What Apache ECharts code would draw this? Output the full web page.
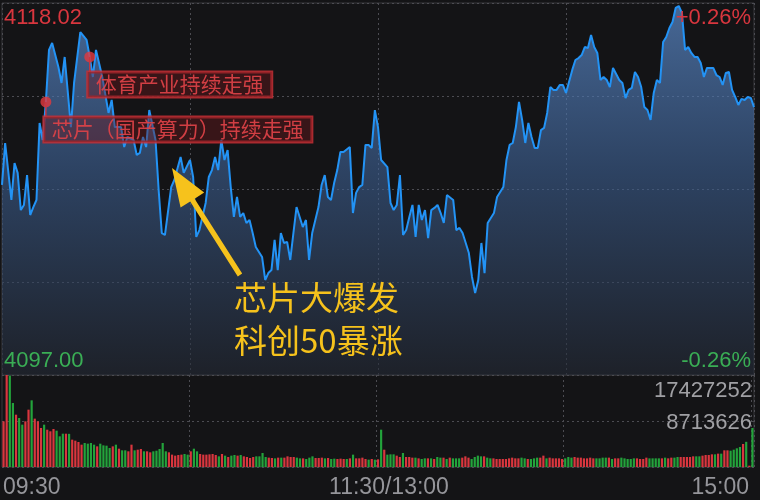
<!DOCTYPE html>
<html>
<head>
<meta charset="utf-8">
<script src="https://cdn.jsdelivr.net/npm/echarts@6/dist/echarts.min.js"></script>
<style>
  html, body { margin: 0; padding: 0; background: #141416; }
  #main { width: 760px; height: 500px; }
</style>
</head>
<body>
<div id="main"></div>
<script>
var prevClose = 4107.51;
var priceMax = 4118.02;
var priceMin = 4097.00;
var volMax = 17427252;
var timeLabels = ['09:30', '11:30/13:00', '15:00'];

// minute of session (0..240) and index price
var priceMinutes = [
  0, 1, 3, 4, 5, 6, 7, 8, 9, 10, 11, 12, 13, 14, 15, 16, 18, 19, 20, 22, 23, 25, 27, 28, 29, 30,
  32, 34, 35, 36, 38, 39, 40, 42, 43, 44, 45, 46, 47, 49, 50, 51, 52, 54, 55, 57, 58, 60,
  61, 62, 63, 65, 66, 67, 68, 69, 70, 71, 72, 73, 74, 75, 76, 77, 78, 79, 80, 81, 83, 84, 85, 86,
  87, 88, 89, 90, 91, 92, 93, 94, 95, 96, 97, 98, 99, 101, 102, 103, 104, 105, 106, 107, 108, 109,
  111, 112, 113, 114, 115, 116, 117, 118, 119, 120,
  121, 123, 124, 125, 126, 127, 128, 129, 130, 131, 132, 133, 134, 135, 136, 137, 138, 139, 140,
  141, 142, 144, 145, 146, 147, 149, 150, 151, 152, 153, 154, 155, 157, 158, 160, 161, 162, 163,
  164, 165, 166, 167, 168, 169, 170, 171, 172, 173, 174, 175, 176, 177, 178, 179, 180, 182, 183,
  184, 185, 186, 187, 188, 189, 190, 191, 192, 193, 194, 195, 197, 198, 199, 200, 201, 202, 203,
  204, 205, 206, 207, 208, 209, 210, 211, 212, 213, 214, 215, 216, 217, 218, 219, 220, 221, 222,
  223, 224, 225, 227, 228, 229, 230, 231, 232, 233, 234, 235, 236, 237, 238, 239, 240
];
var prices = [
  4107.74, 4110.11, 4106.89, 4108.98, 4108.42, 4106.32, 4106.61, 4108.30, 4106.04, 4106.49, 4106.89, 4111.24, 4110.28, 4112.43, 4115.37, 4115.76, 4114.40, 4113.50, 4114.97, 4111.01, 4113.50, 4116.38, 4115.93, 4114.97, 4113.84, 4115.37,
  4113.84, 4111.81, 4112.54, 4111.01, 4111.01, 4109.88, 4110.45, 4110.28, 4109.43, 4109.55, 4110.45, 4109.88, 4111.97, 4110.28, 4107.45, 4105.02, 4104.91, 4107.62, 4108.02, 4109.32, 4108.42, 4109.15,
  4108.19, 4104.80, 4105.19, 4106.72, 4108.19, 4108.58, 4109.32, 4108.58, 4110.28, 4109.15, 4109.71, 4107.62, 4105.93, 4107.06, 4105.93, 4106.15, 4105.59, 4105.76, 4105.02, 4104.23, 4103.67, 4102.37, 4102.76, 4102.93,
  4104.63, 4102.93, 4105.02, 4104.46, 4104.52, 4103.50, 4105.02, 4106.49, 4105.93, 4105.36, 4105.76, 4103.50, 4105.02, 4106.49, 4107.74, 4108.30, 4107.06, 4106.89, 4107.85, 4108.58, 4109.60, 4109.60,
  4109.88, 4106.15, 4107.29, 4107.62, 4107.74, 4110.00, 4110.00, 4109.83, 4111.97, 4111.01,
  4109.15, 4108.75, 4106.72, 4106.32, 4106.61, 4108.30, 4104.91, 4105.19, 4105.93, 4106.61, 4104.80, 4106.61, 4105.76, 4106.32, 4104.74, 4106.32, 4106.44, 4106.61, 4106.15,
  4105.59, 4107.17, 4106.89, 4105.19, 4105.31, 4105.02, 4103.89, 4102.54, 4101.63, 4102.37, 4104.46, 4102.76, 4105.59, 4106.15, 4107.06, 4107.62, 4109.15, 4110.00, 4110.11,
  4111.01, 4112.43, 4111.41, 4110.11, 4111.24, 4110.45, 4109.83, 4109.83, 4110.84, 4110.96, 4111.81, 4113.27, 4113.11, 4113.11, 4113.39, 4113.39, 4112.94, 4114.24, 4114.80,
  4114.91, 4115.08, 4115.53, 4115.48, 4116.21, 4115.53, 4115.20, 4113.67, 4113.84, 4113.67, 4113.27, 4114.35, 4113.67, 4113.50, 4112.65, 4113.11, 4113.22, 4114.12, 4113.84,
  4113.27, 4112.14, 4111.97, 4111.41, 4112.94, 4113.67, 4113.50, 4115.82, 4116.10, 4116.61, 4116.95, 4117.74, 4117.85, 4117.46, 4115.37, 4115.53, 4115.20, 4114.97, 4114.97,
  4114.63, 4113.84, 4114.35, 4114.35, 4113.95, 4113.84, 4113.39, 4114.07, 4114.12, 4113.11, 4112.71, 4112.26, 4112.60, 4112.54, 4112.71, 4112.65, 4112.14
];

// one bar per minute, u = up (red), d = down (green)
var volumes = [
  865e4, 17427252, 1731e4, 1212e4, 991e4, 928e4, 802e4, 865e4, 1086e4, 1263e4,
  916e4, 865e4, 739e4, 802e4, 707e4, 676e4, 720e4, 688e4, 581e4, 631e4,
  631e4, 628e4, 518e4, 499e4, 474e4, 423e4, 455e4, 442e4, 455e4, 423e4,
  391e4, 442e4, 410e4, 404e4, 360e4, 391e4, 423e4, 347e4, 316e4, 316e4,
  297e4, 423e4, 316e4, 328e4, 341e4, 297e4, 297e4, 278e4, 297e4, 309e4,
  341e4, 455e4, 297e4, 278e4, 234e4, 215e4, 227e4, 234e4, 246e4, 234e4,
  297e4, 347e4, 297e4, 246e4, 234e4, 234e4, 240e4, 246e4, 227e4, 202e4,
  246e4, 215e4, 189e4, 215e4, 227e4, 215e4, 227e4, 202e4, 189e4, 170e4,
  189e4, 202e4, 202e4, 265e4, 189e4, 177e4, 170e4, 164e4, 177e4, 177e4,
  177e4, 202e4, 189e4, 189e4, 177e4, 164e4, 164e4, 152e4, 177e4, 202e4,
  170e4, 170e4, 177e4, 164e4, 170e4, 152e4, 158e4, 152e4, 158e4, 152e4,
  152e4, 164e4, 234e4, 164e4, 164e4, 177e4, 152e4, 139e4, 152e4, 139e4,
  145e4, 707e4, 328e4, 234e4, 240e4, 240e4, 215e4, 189e4, 265e4, 189e4,
  189e4, 177e4, 177e4, 164e4, 152e4, 164e4, 164e4, 164e4, 152e4, 189e4,
  177e4, 177e4, 152e4, 177e4, 164e4, 164e4, 164e4, 177e4, 202e4, 177e4,
  152e4, 189e4, 215e4, 202e4, 202e4, 177e4, 164e4, 164e4, 152e4, 152e4,
  152e4, 152e4, 164e4, 177e4, 164e4, 164e4, 177e4, 164e4, 152e4, 152e4,
  164e4, 177e4, 177e4, 215e4, 164e4, 177e4, 164e4, 164e4, 164e4, 152e4,
  164e4, 189e4, 177e4, 189e4, 177e4, 177e4, 164e4, 164e4, 177e4, 164e4,
  164e4, 164e4, 177e4, 177e4, 177e4, 152e4, 164e4, 164e4, 177e4, 164e4,
  152e4, 152e4, 164e4, 164e4, 152e4, 152e4, 177e4, 164e4, 164e4, 164e4,
  164e4, 164e4, 177e4, 164e4, 177e4, 177e4, 189e4, 189e4, 189e4, 189e4,
  189e4, 202e4, 202e4, 202e4, 215e4, 227e4, 227e4, 240e4, 240e4, 253e4,
  253e4, 316e4, 316e4, 309e4, 328e4, 354e4, 379e4, 436e4, 477e4, 25e4,
  739e4
];
var volDir =
  'uuddudduud' + 'uuuduuuddd' + 'uduuuudddd' + 'uddddududd' + 'uuduuduudd' +
  'ddduuuuudd' + 'udduuuuuud' + 'ududduduuu' + 'udd' + 'dduudud' +
  'uuuudduddd' + 'uuududduuu' + 'duduuuudud' + 'u' + 'duddduudu' +
  'uududdudud' + 'dududdduuu' + 'ddddudduuu' + 'uuu' + 'uuuddud' +
  'dduuduuuuu' + 'ddduuuuuuu' + 'dddduduudd' + 'ddduuuuddd' + 'duduudduuu' +
  'uu' + 'dduuuudu' + 'duuddddudu' + 'd';

var events = [
  { minute: 14, text: '芯片（国产算力）持续走强' },
  { minute: 28, text: '体育产业持续走强' }
];
var callout = ['芯片大爆发', '科创50暴涨'];

var RED = '#d9363e';
var GREEN = '#23a33b';
var GRID_LINE = { color: '#4c4c52', type: [2, 3], width: 1 };
var NUM_FONT = '"Liberation Sans", Arial, sans-serif';
var CJK_FONT = '"Noto Sans CJK SC", sans-serif';

function priceAt(m) {
  return prices[priceMinutes.indexOf(m)];
}

var chartDom = document.getElementById('main');
var myChart = echarts.init(chartDom);
var option;

var priceData = priceMinutes.map(function (m, i) {
  return [m, prices[i]];
});
var volData = volumes.map(function (v, i) {
  return { value: v, itemStyle: { color: volDir.charAt(i) === 'u' ? RED : GREEN } };
});
var hidden = { axisLine: { show: false }, axisTick: { show: false }, axisLabel: { show: false } };

option = {
  backgroundColor: '#141416',
  animation: false,
  grid: [
    { left: 2, right: 6, top: 3, height: 372, show: true, borderColor: '#38383c', borderWidth: 1 },
    { left: 2, right: 6, top: 375, height: 92, show: true, borderColor: '#38383c', borderWidth: 1 }
  ],
  xAxis: [
    Object.assign({
      gridIndex: 0, type: 'value', min: 0, max: 240, interval: 60,
      splitLine: { show: true, lineStyle: GRID_LINE }
    }, hidden),
    Object.assign({
      gridIndex: 1, type: 'category', data: volumes.map(function (v, i) { return i; }),
      splitLine: {
        show: true,
        interval: function (i) { return i > 0 && i % 60 === 0; },
        lineStyle: GRID_LINE
      }
    }, hidden)
  ],
  yAxis: [
    Object.assign({ gridIndex: 0, type: 'value', min: priceMin, max: priceMax, splitLine: { show: false } }, hidden),
    Object.assign({ gridIndex: 0, type: 'value', min: 0, max: 4, interval: 1, splitLine: { show: true, lineStyle: GRID_LINE } }, hidden),
    Object.assign({ gridIndex: 1, type: 'value', min: 0, max: volMax, splitLine: { show: false } }, hidden),
    Object.assign({ gridIndex: 1, type: 'value', min: 0, max: 2, interval: 1, splitLine: { show: true, lineStyle: GRID_LINE } }, hidden)
  ],
  series: [
    {
      type: 'line',
      xAxisIndex: 0,
      yAxisIndex: 0,
      data: priceData,
      showSymbol: false,
      lineStyle: { color: '#2393f5', width: 2 },
      areaStyle: {
        origin: 'start',
        color: new echarts.graphic.LinearGradient(0, 0, 0, 1, [
          { offset: 0, color: 'rgba(96,146,214,0.95)' },
          { offset: 0.45, color: 'rgba(62,98,150,0.85)' },
          { offset: 1, color: 'rgba(36,42,54,0.85)' }
        ])
      },
      z: 2
    },
    {
      type: 'scatter',
      xAxisIndex: 0,
      yAxisIndex: 0,
      data: events.map(function (e) { return [e.minute, priceAt(e.minute)]; }),
      symbolSize: 11,
      itemStyle: { color: '#e3383d' },
      z: 6
    },
    {
      type: 'bar',
      xAxisIndex: 1,
      yAxisIndex: 2,
      data: volData,
      barCategoryGap: '30%'
    }
  ]
};

if (chartDom && myChart) {
  myChart.setOption(option);
} else {
  console.error('Failed to initialize the chart');
}

function label(text, x, y, color, align, font) {
  return {
    type: 'text', x: x, y: y, z: 100,
    style: {
      text: text, fill: color, font: font,
      align: align, textAlign: align, verticalAlign: 'middle', textVerticalAlign: 'middle'
    }
  };
}

var pct = ((priceMax - prevClose) / prevClose * 100).toFixed(2);
var pctLow = ((prevClose - priceMin) / prevClose * 100).toFixed(2);
var graphics = [
  label(priceMax.toFixed(2), 4, 18, RED, 'left', '22px ' + NUM_FONT),
  label('+' + pct + '%', 751, 18, RED, 'right', '22px ' + NUM_FONT),
  label(priceMin.toFixed(2), 4, 361, '#3aae55', 'left', '22px ' + NUM_FONT),
  label('-' + pctLow + '%', 751, 361, '#3aae55', 'right', '22px ' + NUM_FONT),
  label(String(volMax), 752, 391, '#a0a0a4', 'right', '22px ' + NUM_FONT),
  label(String(volMax / 2), 752, 423, '#a0a0a4', 'right', '22px ' + NUM_FONT),
  label(timeLabels[0], 3, 488, '#95959a', 'left', '23px ' + NUM_FONT),
  label(timeLabels[1], 389, 488, '#95959a', 'center', '23px ' + NUM_FONT),
  label(timeLabels[2], 749, 488, '#95959a', 'right', '23px ' + NUM_FONT)
];

events.forEach(function (e) {
  var p = myChart.convertToPixel({ seriesIndex: 1 }, [e.minute, priceAt(e.minute)]);
  var boxTop = p[1] + 15;
  graphics.push({
    type: 'line', z: 90,
    shape: { x1: p[0], y1: p[1], x2: p[0], y2: boxTop },
    style: { stroke: 'rgba(205,50,56,0.9)', lineWidth: 1.5 }
  });
  graphics.push({
    type: 'text', x: p[0] - 2, y: boxTop, z: 90,
    style: {
      text: e.text, font: '21px ' + CJK_FONT, fill: 'rgba(222,66,72,0.92)',
      align: 'left', textAlign: 'left', verticalAlign: 'top', textVerticalAlign: 'top',
      backgroundColor: 'rgba(110,22,28,0.4)', borderColor: 'rgba(196,46,52,0.85)',
      borderWidth: 1.5, padding: [2, 8, 2, 8]
    }
  });
});

// yellow arrow pointing at the chip rally
var tip = [172, 168], tail = [240, 275];
var dx = tail[0] - tip[0], dy = tail[1] - tip[1];
var len = Math.sqrt(dx * dx + dy * dy);
var ux = dx / len, uy = dy / len, px = -uy, py = ux;
var headLen = 38, headHalf = 14, shaftHalf = 2.6;
var bx = tip[0] + ux * headLen, by = tip[1] + uy * headLen;
graphics.push({
  type: 'polygon', z: 95,
  shape: {
    points: [
      tip,
      [bx + px * headHalf, by + py * headHalf],
      [bx + px * shaftHalf, by + py * shaftHalf],
      [tail[0] + px * shaftHalf, tail[1] + py * shaftHalf],
      [tail[0] - px * shaftHalf, tail[1] - py * shaftHalf],
      [bx - px * shaftHalf, by - py * shaftHalf],
      [bx - px * headHalf, by - py * headHalf]
    ]
  },
  style: { fill: '#f6c21c' }
});
graphics.push(label(callout[0], 234, 297, '#f6c21c', 'left', '33px ' + CJK_FONT));
graphics.push(label(callout[1], 234, 340, '#f6c21c', 'left', '33px ' + CJK_FONT));

myChart.setOption({ graphic: graphics });
</script>
</body>
</html>
